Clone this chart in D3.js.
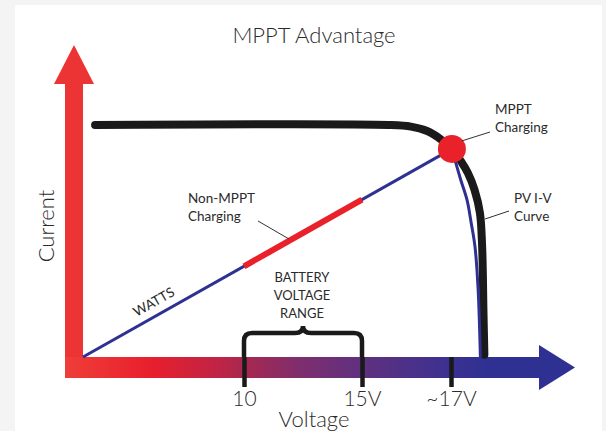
<!DOCTYPE html>
<html>
<head>
<meta charset="utf-8">
<script src="https://cdn.jsdelivr.net/npm/d3@7"></script>
<style>
  html, body { margin: 0; padding: 0; background: #f4f4f4; }
  svg { display: block; }
  text { font-family: Lato, "Open Sans", sans-serif; fill: #2b2b2b; }
</style>
</head>
<body>
<script>
// ------------  DATA  ------------
const tickVolts = [10, 15, 17];
const tickLabels = ["10", "15V", "~17V"];

// PV I-V curve (volts, relative current)
const pvVolts = [0.75, 15.6, 16.1, 16.45, 16.76, 17.02, 17.22, 17.38, 17.53, 17.65, 17.70, 17.73, 17.75];
const pvAmps  = [1.0, 1.0, 0.993, 0.975, 0.94, 0.897, 0.845, 0.793, 0.72, 0.621, 0.474, 0.19, 0.01];

// inner (blue) branch of the curve below the MPP
const innerVolts = [17.02, 17.09, 17.22, 17.36, 17.45, 17.54, 17.61, 17.66];
const innerAmps  = [0.897, 0.849, 0.763, 0.677, 0.582, 0.474, 0.289, 0.0];

const mppVolt = 17.02, mppAmp = 0.897;
const batteryVolts = [10, 15];
const batteryAmps = [0.391, 0.678];

// ------------  PARAMETERS  ------------
const W = 606, H = 431;

const x = d3.scaleLinear().domain([0, 10, 15, 17]).range([83, 244, 362, 451]);
const y = d3.scaleLinear().domain([0, 1]).range([357, 125]);

const svg = d3.select("body").append("svg").attr("width", W).attr("height", H);

// white panel
svg.append("rect").attr("x", 15).attr("y", 5).attr("width", 587).attr("height", H - 5).attr("fill", "#fff");

// ------------  GRADIENT  ------------
const grad = svg.append("defs").append("linearGradient")
  .attr("id", "xgrad").attr("gradientUnits", "userSpaceOnUse")
  .attr("x1", 65).attr("x2", 575).attr("y1", 0).attr("y2", 0);
[[0, "#ef3e39"], [0.17, "#e81f2d"], [0.3, "#c02445"], [0.35, "#a8284f"],
 [0.46, "#7e2e6e"], [0.58, "#60307f"], [0.75, "#3c3190"], [0.83, "#2e3192"], [1, "#2e3192"]]
  .forEach(s => grad.append("stop").attr("offset", s[0]).attr("stop-color", s[1]));

// ------------  AXIS ARROWS  ------------
const x0 = x(0), y0 = y(0);
svg.append("rect").attr("x", x0 - 18).attr("y", 83).attr("width", 18).attr("height", y0 + 21 - 83).attr("fill", "#ec3434");
svg.append("path").attr("d", d3.line()([[x0 - 29, 84], [x0 - 9, 45], [x0 + 11, 84]])).attr("fill", "#ec3434");

svg.append("rect").attr("x", x0 - 18).attr("y", y0).attr("width", 540 - x0 + 18).attr("height", 21).attr("fill", "url(#xgrad)");
svg.append("path").attr("d", d3.line()([[539, y0 - 12], [575, y0 + 10.5], [539, y0 + 33]])).attr("fill", "#2e3192");

// ------------  TICKS  ------------
const xaxis = d3.axisBottom(x)
  .tickValues(tickVolts)
  .tickFormat((d, i) => tickLabels[i])
  .tickSize(30)
  .tickPadding(4);

const gx = svg.append("g").attr("transform", "translate(0," + y0 + ")").call(xaxis);
gx.select(".domain").remove();
gx.selectAll(".tick line").attr("stroke", "#1a1a1a").attr("stroke-width", 4.5);
gx.selectAll(".tick text").attr("fill", "#2b2b2b").style("font-size", "21px").style("font-weight", 300)
  .style("font-family", "Lato, 'Open Sans', sans-serif");

// ------------  BATTERY BRACE  ------------
const bx1 = x(batteryVolts[0]), bx2 = x(batteryVolts[1]), bm = (bx1 + bx2) / 2;
const braceTop = 333, braceBot = y0;
svg.append("path")
  .attr("d", "M" + bx1 + "," + braceBot +
    " L" + bx1 + "," + (braceTop + 8) +
    " Q" + bx1 + "," + braceTop + " " + (bx1 + 8) + "," + braceTop +
    " L" + (bm - 8) + "," + braceTop +
    " Q" + bm + "," + braceTop + " " + bm + "," + (braceTop - 7) +
    " Q" + bm + "," + braceTop + " " + (bm + 8) + "," + braceTop +
    " L" + (bx2 - 8) + "," + braceTop +
    " Q" + bx2 + "," + braceTop + " " + bx2 + "," + (braceTop + 8) +
    " L" + bx2 + "," + braceBot)
  .attr("fill", "none").attr("stroke", "#1a1a1a").attr("stroke-width", 4.5);

svg.selectAll(".batt").data(["BATTERY", "VOLTAGE", "RANGE"]).enter().append("text")
  .attr("x", bm - 1).attr("y", (d, i) => 282 + i * 18)
  .attr("text-anchor", "middle").style("font-size", "13px").text(d => d);

// ------------  CURVES  ------------
const line = d3.line().x(d => x(d[0])).y(d => y(d[1])).curve(d3.curveCatmullRom.alpha(0.5));

svg.append("path").datum(pvVolts.map((v, i) => [v, pvAmps[i]]))
  .attr("d", line).attr("fill", "none").attr("stroke", "#1a1a1a").attr("stroke-width", 8)
  .attr("stroke-linecap", "round");

svg.append("path").datum(innerVolts.map((v, i) => [v, innerAmps[i]]))
  .attr("d", line).attr("fill", "none").attr("stroke", "#2e3192").attr("stroke-width", 3);

// watts line
svg.append("path").datum([[0, 0], [mppVolt, mppAmp]])
  .attr("d", d3.line().x(d => x(d[0])).y(d => y(d[1])))
  .attr("stroke", "#2e3192").attr("stroke-width", 3);

// non-MPPT segment
svg.append("path").datum(batteryVolts.map((v, i) => [v, batteryAmps[i]]))
  .attr("d", d3.line().x(d => x(d[0])).y(d => y(d[1])))
  .attr("stroke", "#e8212b").attr("stroke-width", 6);

svg.append("circle").attr("cx", x(mppVolt)).attr("cy", y(mppAmp)).attr("r", 14).attr("fill", "#e8212b");

// ------------  LABELS  ------------
svg.append("text").attr("x", 314).attr("y", 43).attr("text-anchor", "middle")
  .style("font-size", "22px").style("font-weight", 300).text("MPPT Advantage");

svg.append("text").attr("transform", "translate(54,226) rotate(-90)").attr("text-anchor", "middle")
  .style("font-size", "22px").style("font-weight", 300).text("Current");

svg.append("text").attr("x", 314).attr("y", 427).attr("text-anchor", "middle")
  .style("font-size", "22px").style("font-weight", 300).text("Voltage");

const wattsAngle = Math.atan2(y(mppAmp) - y0, x(mppVolt) - x0) * 180 / Math.PI;
svg.append("text").attr("transform", "translate(156,306) rotate(" + wattsAngle + ")")
  .attr("text-anchor", "middle").style("font-size", "13.5px").text("WATTS");

function note(lines, lx, ly, from, to) {
  svg.append("line").attr("x1", from[0]).attr("y1", from[1]).attr("x2", to[0]).attr("y2", to[1])
    .attr("stroke", "#333").attr("stroke-width", 1);
  svg.append("g").selectAll("text").data(lines).enter().append("text")
    .attr("x", lx).attr("y", (d, i) => ly + i * 18).style("font-size", "13.5px").text(d => d);
}

note(["Non-MPPT", "Charging"], 188, 203, [258, 221], [289, 239]);
note(["MPPT", "Charging"], 495, 114, [x(mppVolt) + 10, y(mppAmp) - 8], [490, 132]);
note(["PV I-V", "Curve"], 514, 203, [485, 219], [509, 211]);
</script>
</body>
</html>
